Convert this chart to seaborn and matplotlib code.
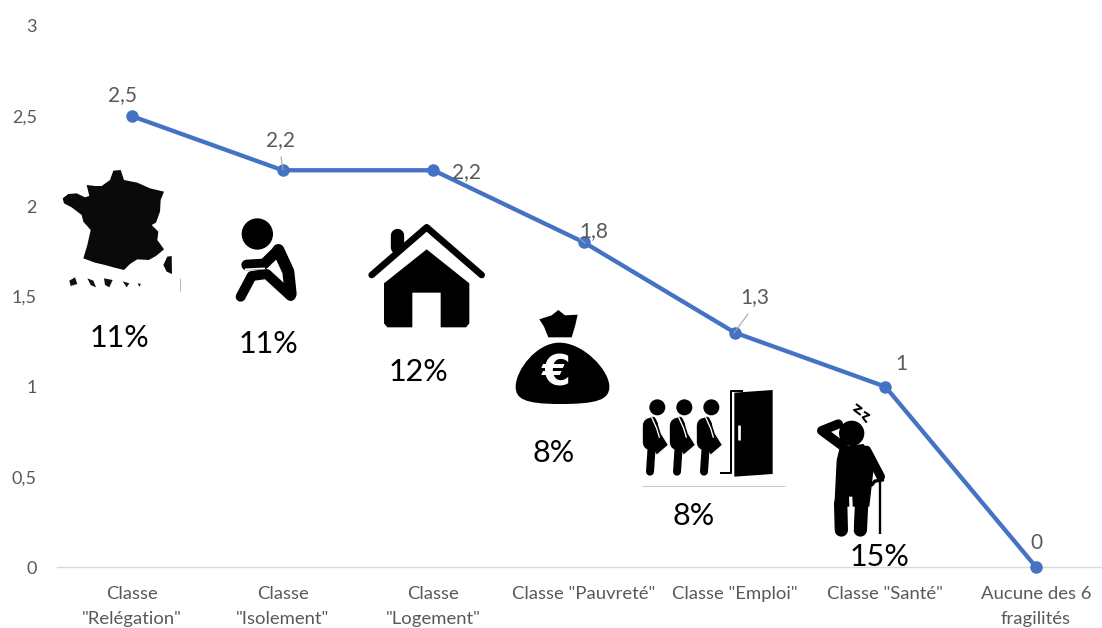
import matplotlib
matplotlib.use("Agg")
import matplotlib.pyplot as plt
import pandas as pd
import seaborn as sns
from matplotlib.patches import Circle, Polygon, PathPatch
from matplotlib.path import Path

categories = ['Classe\n"Relégation"', 'Classe\n"Isolement"', 'Classe\n"Logement"',
              'Classe "Pauvreté"', 'Classe "Emploi"', 'Classe "Santé"', 'Aucune des 6\nfragilités']
values = [2.5, 2.2, 2.2, 1.8, 1.3, 1, 0]
value_labels = ['2,5', '2,2', '2,2', '1,8', '1,3', '1', '0']
y_ticks = [0, 0.5, 1, 1.5, 2, 2.5, 3]
y_tick_labels = ['0', '0,5', '1', '1,5', '2', '2,5', '3']
shares = ['11%', '11%', '12%', '8%', '8%', '15%']

W, H = 1102, 628
sns.set_theme(style="white")
plt.rcParams['font.family'] = ['Lato', 'DejaVu Sans']
GREY = '#595959'
BLUE = '#4472C4'

fig = plt.figure(figsize=(W / 100, H / 100), dpi=100, facecolor='white')
ax = fig.add_axes([57 / W, (H - 567) / H, (W - 57) / W, (567 - 26) / H])
df = pd.DataFrame({'classe': categories, 'valeur': values})
sns.lineplot(data=df, x='classe', y='valeur', sort=False, ax=ax, color=BLUE, linewidth=3.1,
             marker='o', markersize=9, markeredgecolor=BLUE, markeredgewidth=0,
             errorbar=None, clip_on=False, zorder=3)
ax.set_xlim(-0.498, 6.438)
ax.set_ylim(0, 3)
ax.set_xlabel('')
ax.set_ylabel('')
ax.set_yticks(y_ticks)
ax.set_yticklabels(y_tick_labels)
ax.set_xticks(range(len(categories)))
ax.set_xticklabels(categories, linespacing=1.62)
ax.tick_params(axis='y', length=0, pad=14.5, labelsize=13, labelcolor=GREY)
ax.tick_params(axis='x', length=0, pad=14, labelsize=13.3, labelcolor=GREY)
for s in ['top', 'right', 'left']:
    ax.spines[s].set_visible(False)
ax.spines['bottom'].set_color('#D9D9D9')
ax.spines['bottom'].set_linewidth(1)
ax.patch.set_alpha(0)

label_offsets = [(-10, 21), (-2, 30), (33, -2), (10, 11), (20, 35), (16, 23), (0, 24)]
for i, (lab, off) in enumerate(zip(value_labels, label_offsets)):
    ax.annotate(lab, (i, values[i]), xytext=off, textcoords='offset pixels',
                ha='center', va='center', fontsize=15, color=GREY, annotation_clip=False)

# overlay in pixel space for the pictograms and the share labels
ov = fig.add_axes([0, 0, 1, 1], zorder=5)
ov.set_xlim(0, W)
ov.set_ylim(H, 0)
ov.axis('off')
ov.patch.set_alpha(0)

# leader lines
for a, b in [((283, 170), (281, 157)), ((585, 243), (579, 238)), ((734, 333), (748, 314))]:
    ov.plot([a[0], b[0]], [a[1], b[1]], color='#A6A6A6', lw=0.8)


def mapper(ox, oy):
    return lambda pts: [(ox + x / 3, oy + y / 3) for x, y in pts]


def stroke(m, pts, w, color='black', cap='round'):
    q = m(pts)
    ov.plot([p[0] for p in q], [p[1] for p in q], color=color, lw=w / 3 * 0.72,
            solid_capstyle=cap, solid_joinstyle='round')


def disc(m, c, r, color='black'):
    ov.add_patch(Circle(m([c])[0], r / 3, fc=color, ec='none'))


def poly(m, pts, color='black', **kw):
    ov.add_patch(Polygon(m(pts), closed=True, fc=color, ec=kw.get('ec', 'none'), lw=kw.get('lw', 0),
                         joinstyle='round'))


m1 = mapper(50, 150)
m2 = mapper(500, 300)

# France
poly(m1, [(38, 145), (55, 132), (80, 130), (105, 142), (118, 138), (110, 105), (135, 108), (155, 108), (180, 90),
          (190, 62), (212, 60), (222, 90), (262, 98), (300, 115), (342, 125), (332, 150), (330, 185), (318, 218),
          (305, 225), (325, 245), (322, 270), (342, 298), (318, 318), (296, 330), (262, 328), (240, 342),
          (222, 360), (190, 352), (165, 345), (135, 338), (100, 325), (112, 285), (122, 240), (100, 215),
          (95, 195), (65, 172), (42, 160)], color='#0a0a0a')
poly(m1, [(352, 320), (365, 318), (366, 372), (350, 365), (340, 345)], color='#0a0a0a')
for pts in ([(58, 392), (75, 382), (82, 402), (62, 408)],
            [(112, 385), (130, 392), (138, 412), (122, 405)],
            [(162, 385), (188, 390), (178, 412), (165, 405)],
            [(218, 394), (238, 400), (230, 412)],
            [(263, 400), (273, 402), (268, 410)]):
    poly(m1, pts, color='#111111')
stroke(m1, [(390, 385), (390, 422)], 3, '#BBBBBB', 'butt')

# Sitting person
disc(m1, (622, 252), 47)
stroke(m1, [(590, 345), (642, 342), (685, 300)], 32)
stroke(m1, [(685, 300), (715, 365), (722, 432)], 36)
stroke(m1, [(572, 440), (605, 378), (650, 372), (722, 438)], 30)
stroke(m1, [(585, 358), (645, 355)], 5, 'white', 'butt')

# House
stroke(m1, [(1042, 255), (1042, 292)], 40)
stroke(m1, [(965, 375), (1130, 232), (1295, 375)], 20)
poly(m1, [(1130, 298), (1258, 400), (1258, 520), (1248, 532), (1172, 532), (1172, 428), (1087, 428), (1087, 532),
          (1012, 532), (1002, 520), (1002, 400)])

# Money bag
poly(m2, [(118, 58), (155, 46), (175, 30), (195, 46), (233, 44), (226, 75), (215, 112), (145, 112), (132, 80)])
bag = m2([(178, 128), (250, 128), (328, 210), (328, 260), (328, 300), (290, 312), (180, 312),
          (70, 312), (47, 295), (47, 260), (47, 210), (110, 128), (178, 128)])
ov.add_patch(PathPatch(Path(bag, [Path.MOVETO] + [Path.CURVE4] * 12), fc='black', ec='none'))
ov.text(*m2([(170, 222)])[0], '€', color='white', fontsize=30, fontweight='bold',
        ha='center', va='center', family=['DejaVu Sans'])

# Workers and door
for dx in (0, 81, 162):
    disc(m2, (472 + dx, 322), 24)
    stroke(m2, [(450 + dx, 375), (450 + dx, 425)], 46)
    stroke(m2, [(458 + dx, 360), (470 + dx, 395), (480 + dx, 430)], 20)
    stroke(m2, [(455 + dx, 440), (450 + dx, 515)], 24)
    poly(m2, [(445 + dx, 425), (483 + dx, 400), (505 + dx, 435), (470 + dx, 465)], ec='white', lw=0.6)
    stroke(m2, [(455 + dx, 352), (470 + dx, 385), (478 + dx, 412)], 4, 'white')
poly(m2, [(703, 278), (818, 270), (818, 522), (703, 530)])
stroke(m2, [(660, 520), (692, 520), (692, 272), (730, 272)], 6, 'black', 'butt')
stroke(m2, [(718, 375), (718, 420)], 8, 'white', 'butt')
stroke(m2, [(427, 558), (855, 558)], 3, '#C8C8C8', 'butt')

# Old man
disc(m2, (1055, 400), 38)
stroke(m2, [(1015, 372), (965, 392), (1030, 440)], 28)
poly(m2, [(1020, 440), (1090, 432), (1125, 470), (1108, 620), (1003, 620), (1010, 480)])
stroke(m2, [(1022, 610), (1024, 690)], 40)
stroke(m2, [(1085, 610), (1081, 690)], 40)
stroke(m2, [(1100, 450), (1142, 530)], 26)
stroke(m2, [(1115, 555), (1125, 543), (1148, 540)], 10)
stroke(m2, [(1140, 545), (1140, 703)], 7, 'black', 'butt')
stroke(m2, [(1052, 590), (1056, 690)], 10, 'white', 'butt')
stroke(m2, [(1068, 312), (1085, 325), (1062, 330), (1082, 345)], 6, 'black', 'butt')
stroke(m2, [(1092, 335), (1108, 345), (1088, 352), (1100, 368)], 6, 'black', 'butt')

# Share labels
share_pos = [(119, 338), (268, 344), (418, 372), (554, 453), (694, 516), (879, 557)]
for t, (x, y) in zip(shares, share_pos):
    ov.text(x, y, t, fontsize=22, color='black', ha='center', va='center')

fig.savefig('out.png', dpi=100)
